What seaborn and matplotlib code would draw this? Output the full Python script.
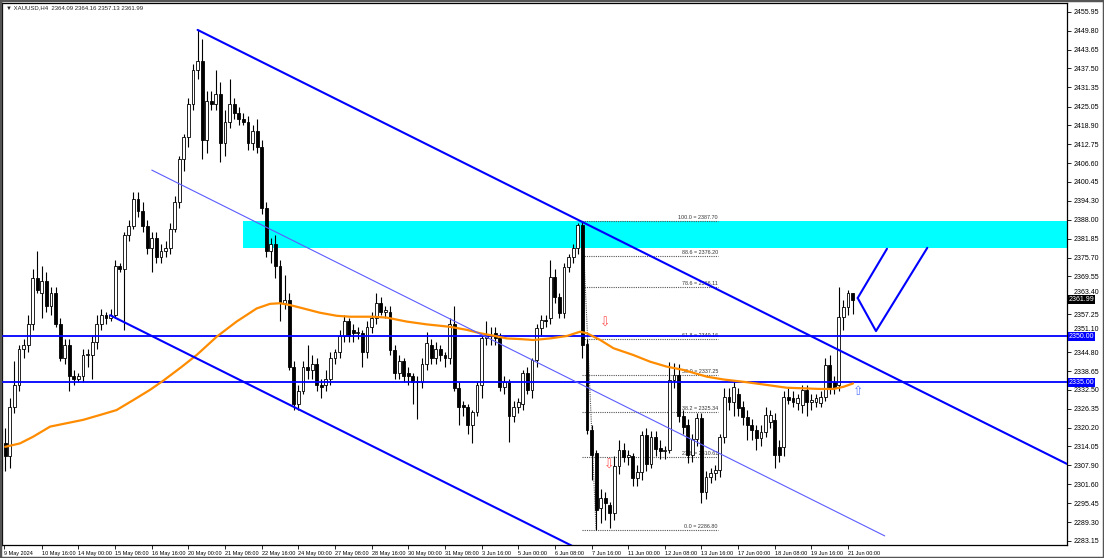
import numpy as np
import matplotlib
matplotlib.use('Agg')
import matplotlib.pyplot as plt
import matplotlib.transforms as mtrans
from matplotlib.patches import Rectangle
import seaborn as sns

# XAUUSD H4 candles, 9 May 08:00 -> 21 Jun 04:00
opens = [2315, 2311, 2327, 2334, 2346, 2347, 2354, 2369, 2364, 2368,
         2360, 2364, 2354, 2343, 2347, 2337, 2336, 2337, 2344, 2344,
         2348, 2354, 2357, 2356, 2357, 2373, 2372, 2383, 2386, 2395,
         2391, 2386, 2379, 2382, 2376, 2378, 2379, 2385, 2394, 2408,
         2415, 2426, 2437, 2440, 2414, 2427, 2426, 2429, 2413, 2420,
         2426, 2423, 2421, 2420, 2413, 2417, 2412, 2392, 2378, 2380,
         2373, 2361, 2362, 2340, 2328, 2332, 2340, 2339, 2341, 2334,
         2334, 2336, 2343, 2345, 2350, 2355, 2352, 2351, 2351, 2345,
         2353, 2356, 2361, 2358, 2358, 2345.5, 2338, 2342, 2338, 2337,
         2335, 2335, 2341, 2347, 2343, 2346, 2344, 2343, 2354, 2333,
         2327.5, 2327, 2321, 2325.4, 2334, 2349.3, 2350.4, 2351, 2349.3, 2333.6,
         2335, 2324, 2327, 2328, 2338, 2332.5, 2342.3, 2352.6, 2355.3, 2355.9,
         2369.5, 2363, 2357.5, 2372.8, 2376, 2378.7, 2386.5, 2347.5, 2319.4, 2311.8,
         2293.8, 2297.1, 2294.9, 2292.2, 2307.5, 2312.9, 2310.7, 2311, 2303.6, 2305.8,
         2317.8, 2308.3, 2317, 2313.5, 2312.6, 2313, 2335.7, 2337.4, 2324, 2321,
         2311.2, 2316.5, 2323.2, 2299.2, 2304.1, 2305.2, 2306.3, 2317.2, 2330.3, 2328.6,
         2331, 2327, 2323.7, 2321, 2319.4, 2316.7, 2318.9, 2322.1, 2322.7, 2313.9,
         2313.9, 2330.3, 2329.7, 2328.1, 2327.6, 2332.5, 2328.6, 2328.6, 2328.1, 2330.3,
         2340.6, 2335, 2334, 2356.4, 2359.7, 2364.09]
highs = [2320, 2330, 2342, 2347, 2349, 2357, 2372, 2378, 2373, 2371,
         2366, 2366, 2356, 2349, 2349, 2339, 2338, 2346, 2346, 2350,
         2357, 2359, 2358, 2359, 2375, 2374, 2384, 2388, 2397, 2397,
         2394, 2388, 2384, 2384, 2380, 2381, 2387, 2396, 2409, 2416,
         2428, 2439, 2450, 2447, 2430, 2430, 2437, 2433, 2424, 2434,
         2428, 2425, 2423, 2422, 2419, 2421, 2414, 2394, 2382, 2383,
         2375, 2370, 2364, 2342, 2334, 2342, 2347, 2344, 2343, 2336,
         2339, 2345, 2346, 2352, 2357, 2356, 2354, 2353, 2352, 2355,
         2358, 2364, 2363, 2360, 2360, 2347, 2344, 2343, 2340, 2338,
         2337, 2343, 2351.5, 2349, 2348, 2347, 2345, 2356, 2360, 2335,
         2329, 2328, 2326, 2335, 2350, 2355, 2353, 2353, 2351, 2337,
         2336, 2329, 2330, 2339, 2340, 2343, 2354, 2357, 2357, 2375,
         2372, 2364, 2374, 2377, 2380, 2387, 2387.7, 2349, 2321, 2313,
         2300, 2299, 2296, 2311, 2316, 2315, 2313, 2312, 2308, 2319,
         2320, 2319, 2319, 2316, 2314, 2341.7, 2341.2, 2341, 2326, 2323,
         2318, 2325, 2325, 2306, 2307, 2308, 2318, 2333, 2333, 2335,
         2333, 2329, 2326, 2323, 2321, 2321, 2327, 2326, 2325, 2316,
         2332, 2333, 2332, 2331, 2334, 2334, 2331, 2331, 2332, 2343,
         2344, 2337, 2366, 2362, 2365, 2364.16]
lows = [2306, 2307, 2325, 2332, 2343, 2345, 2352, 2364, 2356, 2358,
        2357, 2353, 2342, 2341, 2332, 2334, 2335, 2335, 2340, 2336,
        2346, 2352, 2354, 2355, 2356, 2371, 2352, 2381, 2385, 2389,
        2384, 2377, 2371, 2374, 2374, 2376, 2377, 2384, 2392, 2404,
        2412, 2424, 2434, 2408, 2410, 2424, 2424, 2407, 2409, 2418,
        2421, 2419, 2419, 2411, 2411, 2410, 2390, 2376, 2374, 2369,
        2355, 2359, 2339, 2326, 2326, 2331, 2336, 2336, 2332, 2330,
        2332, 2334, 2341, 2343, 2348, 2348, 2348, 2349, 2340, 2343,
        2351, 2354, 2357, 2356, 2344, 2336, 2336, 2335, 2334, 2328,
        2323, 2333, 2339, 2341, 2341, 2342, 2340, 2341, 2332, 2321,
        2324, 2318, 2315, 2324, 2330, 2347, 2347, 2347, 2332, 2331,
        2315.6, 2322, 2325, 2326, 2331, 2330, 2340, 2350, 2353, 2354,
        2361, 2356, 2356, 2371, 2374, 2377, 2342.8, 2318, 2303, 2286.8,
        2289, 2290, 2287.5, 2290, 2305, 2309, 2308, 2301, 2301, 2303,
        2306, 2307, 2311, 2310, 2310, 2312, 2333, 2322, 2318, 2308.5,
        2309, 2314, 2295.4, 2297, 2302, 2303, 2304, 2315, 2326, 2324,
        2324, 2321, 2316, 2316, 2313, 2314, 2317, 2320, 2307, 2309,
        2311, 2328, 2327, 2326, 2325, 2324, 2326, 2327, 2327, 2329,
        2331, 2331, 2332, 2352, 2357, 2357.13]
closes = [2311, 2327, 2334, 2346, 2347, 2354, 2369, 2365, 2368, 2360,
          2364, 2354, 2343, 2347, 2337, 2336, 2337, 2344, 2344.3, 2348,
          2354, 2357, 2356, 2357, 2373, 2372, 2383, 2386, 2395, 2391,
          2386, 2379, 2382, 2376, 2378, 2379, 2385, 2394, 2408, 2415,
          2426, 2437, 2440, 2414, 2427, 2426, 2429, 2413, 2420, 2426,
          2423, 2421, 2420, 2413, 2417, 2412, 2392, 2378, 2380, 2373,
          2361, 2362, 2340, 2328, 2332, 2340, 2339, 2341, 2334, 2333.5,
          2336, 2343, 2345, 2350, 2355, 2350, 2351, 2351.5, 2345, 2353,
          2356, 2361, 2358, 2358.5, 2345.5, 2338, 2342, 2337, 2337, 2335,
          2335.4, 2341, 2347.7, 2343, 2346, 2344, 2343, 2354, 2333, 2327,
          2327, 2321, 2325.4, 2334, 2349.3, 2350.4, 2350, 2349.3, 2333.6, 2335,
          2324, 2327, 2328.5, 2338, 2332.5, 2342.3, 2352.6, 2355.3, 2355, 2369.5,
          2363, 2357.5, 2372.8, 2376, 2378.7, 2386.5, 2347.2, 2319.4, 2311.2, 2293.3,
          2297.1, 2295.4, 2292.2, 2307.5, 2312.9, 2310.7, 2311.2, 2303.6, 2305.8, 2317.8,
          2308.3, 2317, 2313.2, 2312.6, 2313, 2335.7, 2337.4, 2324, 2320.5, 2311.2,
          2316.5, 2323.2, 2299.2, 2304.1, 2305.2, 2306.3, 2317.2, 2330.3, 2328.6, 2333.5,
          2326.5, 2323.7, 2321, 2319.4, 2316.7, 2318.9, 2324.3, 2324.3, 2311.2, 2311.2,
          2330.3, 2329.2, 2328.6, 2329.7, 2332.5, 2328.6, 2329.2, 2329.7, 2330.3, 2340.6,
          2333, 2333, 2356.4, 2359.7, 2364, 2361.99]

# moving average (orange), sampled along the curve: candle index / price
ma_idx = [0, 3.2, 6.1, 9.8, 13.4, 17, 20.7, 24.3, 28, 31.6,
          34.5, 38.5, 41.8, 46.2, 50.5, 54.9, 57.8, 60, 62.2, 65.1,
          68.7, 72.4, 75.3, 80.4, 83.3, 87.7, 92, 97.1, 100.8, 103.7,
          106.6, 109.5, 112.4, 115.3, 118.9, 122.6, 125.5, 127, 129.9, 132.8,
          137.1, 140.8, 144.4, 148.1, 153.2, 156.8, 161.9, 166.3, 170.6, 174.3,
          177.9, 180.8, 183, 185.1]
ma_val = [2313.9, 2315, 2317.2, 2320.5, 2321.6, 2322.7, 2324.3, 2325.9, 2329.2, 2332.5,
          2335.5, 2340, 2343.9, 2349.9, 2354.8, 2359.1, 2360.6, 2360.8, 2360.2, 2359.1,
          2357.7, 2356.7, 2356.4, 2356.4, 2356.1, 2354.8, 2353.9, 2353.1, 2352.1, 2351,
          2350.2, 2349.3, 2349.1, 2348.8, 2349.3, 2350.1, 2351.5, 2351, 2348.8, 2346.1,
          2343.9, 2341.7, 2340.1, 2339, 2336.8, 2335.9, 2335, 2334.1, 2333.2, 2333,
          2332.8, 2332.8, 2333.5, 2334.6]

# horizontal support / resistance levels
levels = [2350.00, 2335.00]
# supply zone (cyan)
zone_start, zone_low, zone_high = 51.9, 2378.8, 2387.7

# channel lines (index, price)
upper_line = ([42, 231.8], [2450.1, 2308.3])
lower_line = ([22.9, 140], [2356.9, 2269.4])
mid_line = ([32, 192], [2404.3, 2284.8])
proj_up = ([186.1, 192.5], [2362.5, 2378.6])
proj_v = ([186.1, 190.1, 201.3], [2362.5, 2351.7, 2378.9])

# fibonacci
fib_pct = ['100.0', '88.6', '78.6', '61.8', '50.0', '38.2', '23.6', '0.0']
fib_val = [2387.70, 2376.20, 2366.11, 2349.16, 2337.25, 2325.34, 2310.61, 2286.80]
fib_anchor = ([126, 129], [2387.70, 2286.80])
fib_end = 155.6

# arrows
down_arrows = ([131, 131.9], [2354.4, 2308.0])
up_arrows = ([186.2], [2332.1])

# axis labels
ytick_labels = ['2455.95', '2449.80', '2443.65', '2437.50', '2431.35', '2425.05', '2418.90',
                '2412.75', '2406.60', '2400.45', '2394.30', '2388.00', '2381.85', '2375.70',
                '2369.55', '2363.40', '2357.25', '2351.10', '2344.80', '2338.65', '2332.50',
                '2326.35', '2320.20', '2314.05', '2307.90', '2301.60', '2295.45', '2289.30',
                '2283.15']
date_labels = ['9 May 2024', '10 May 16:00', '14 May 00:00', '15 May 08:00', '16 May 16:00',
               '20 May 00:00', '21 May 08:00', '22 May 16:00', '24 May 00:00', '27 May 08:00',
               '28 May 16:00', '30 May 00:00', '31 May 08:00', '3 Jun 16:00', '5 Jun 00:00',
               '6 Jun 08:00', '7 Jun 16:00', '11 Jun 00:00', '12 Jun 08:00', '13 Jun 16:00',
               '17 Jun 00:00', '18 Jun 08:00', '19 Jun 16:00', '21 Jun 00:00']
title = '\u25bc XAUUSD,H4  2364.09 2364.16 2357.13 2361.99'

sns.set_style('white')
plt.rcParams['font.family'] = ['Liberation Sans', 'DejaVu Sans']

fig = plt.figure(figsize=(11.04, 5.58), dpi=100)
ax = fig.add_axes([2 / 1104, 13 / 558, 1065 / 1104, 542 / 558])

o = np.array(opens, dtype=float)
h = np.array(highs, dtype=float)
l = np.array(lows, dtype=float)
c = np.array(closes, dtype=float)
idx = np.arange(len(c))
up = c >= o

# zone
ax.add_patch(Rectangle((zone_start, zone_low), 240 - zone_start, zone_high - zone_low,
                       facecolor='#00FFFF', edgecolor='none', zorder=1))

# fibonacci levels
ax.hlines(fib_val, fib_anchor[0][0], fib_end, colors='#555555',
          linestyles=(0, (1, 1)), lw=0.8, zorder=2)
ax.plot(fib_anchor[0], fib_anchor[1], color='#555555', ls=(0, (1, 1)), lw=0.8, zorder=2)
for p, v in zip(fib_pct, fib_val):
    ax.text(fib_end, v + 0.35, f'{p} = {v:.2f}', ha='right', va='bottom',
            fontsize=3.9, color='#333333', zorder=2)

# candles
ax.vlines(idx, l, h, color='black', lw=0.8, zorder=3)
bottom = np.minimum(o, c)
height = np.maximum(np.abs(c - o), 0.25)
ax.bar(idx[up], height[up], bottom=bottom[up], width=0.62, color='white',
       edgecolor='black', linewidth=0.6, zorder=3.5)
ax.bar(idx[~up], height[~up], bottom=bottom[~up], width=0.62, color='black',
       edgecolor='black', linewidth=0.6, zorder=3.5)

# levels
for lv in levels:
    ax.axhline(lv, color='#0000FF', lw=1.3, zorder=4)

# moving average
sns.lineplot(x=ma_idx, y=ma_val, ax=ax, color='#FF8C00', lw=1.6, zorder=5,
             estimator=None, sort=False)

# channel and projection lines
for xs, ys in (upper_line, lower_line, proj_up, proj_v):
    ax.plot(xs, ys, color='#0000FF', lw=1.5, zorder=6)
ax.plot(mid_line[0], mid_line[1], color='#5C5CFF', lw=0.8, zorder=6)

# arrows
for x, y in zip(*down_arrows):
    ax.text(x, y, '\u21e9', color='#FF5050', fontsize=9, ha='center', va='center',
            family=['DejaVu Sans'], zorder=7)
for x, y in zip(*up_arrows):
    ax.text(x, y, '\u21e7', color='#5A78FF', fontsize=9, ha='center', va='center',
            family=['DejaVu Sans'], zorder=7)

# axes
ax.set_xlim(-0.7, 231.8)
ax.set_ylim(2281.82, 2458.89)
ax.yaxis.tick_right()
ax.set_yticks([float(t) for t in ytick_labels])
ax.set_yticklabels(ytick_labels)
ax.tick_params(axis='y', length=3, width=0.6, pad=2, labelsize=5, colors='black',
               right=True, left=False)
date_pos = [-0.35] + list(range(8, 8 * len(date_labels), 8))
ax.set_xticks(date_pos)
ax.set_xticklabels(date_labels, ha='left')
ax.tick_params(axis='x', length=3, width=0.6, pad=1, labelsize=4, colors='black',
               bottom=True)
for s in ax.spines.values():
    s.set_color('black')
    s.set_linewidth(0.9)
ax.set_xlabel('')
ax.set_ylabel('')

# the two scale labels hidden behind price tags peek out slightly above them
for lab in ax.get_yticklabels():
    if lab.get_text() in ('2363.40', '2351.10'):
        lab.set_transform(lab.get_transform() +
                          mtrans.ScaledTranslation(0, 4 / 100, fig.dpi_scale_trans))

# price tags on the scale
tr = mtrans.blended_transform_factory(ax.transAxes, ax.transData)
tags = [('2361.99', 2361.99, 'black'), ('2350.00', 2350.00, '#0000FF'),
        ('2335.00', 2335.00, '#0000FF')]
for txt, v, col in tags:
    ax.text(1.0015, v, txt, transform=tr, fontsize=5, color='white', ha='left',
            va='center', clip_on=False, zorder=10,
            bbox=dict(boxstyle='square,pad=0.12', fc=col, ec='none'))

fig.text(6 / 1104, 1 - 8 / 558, title, fontsize=4.3, va='center', ha='left')
fig.add_artist(Rectangle((0, 0), 1, 1, transform=fig.transFigure, fill=False,
                         ec='#555555', lw=2.5))

fig.savefig('out.png', dpi=100)
